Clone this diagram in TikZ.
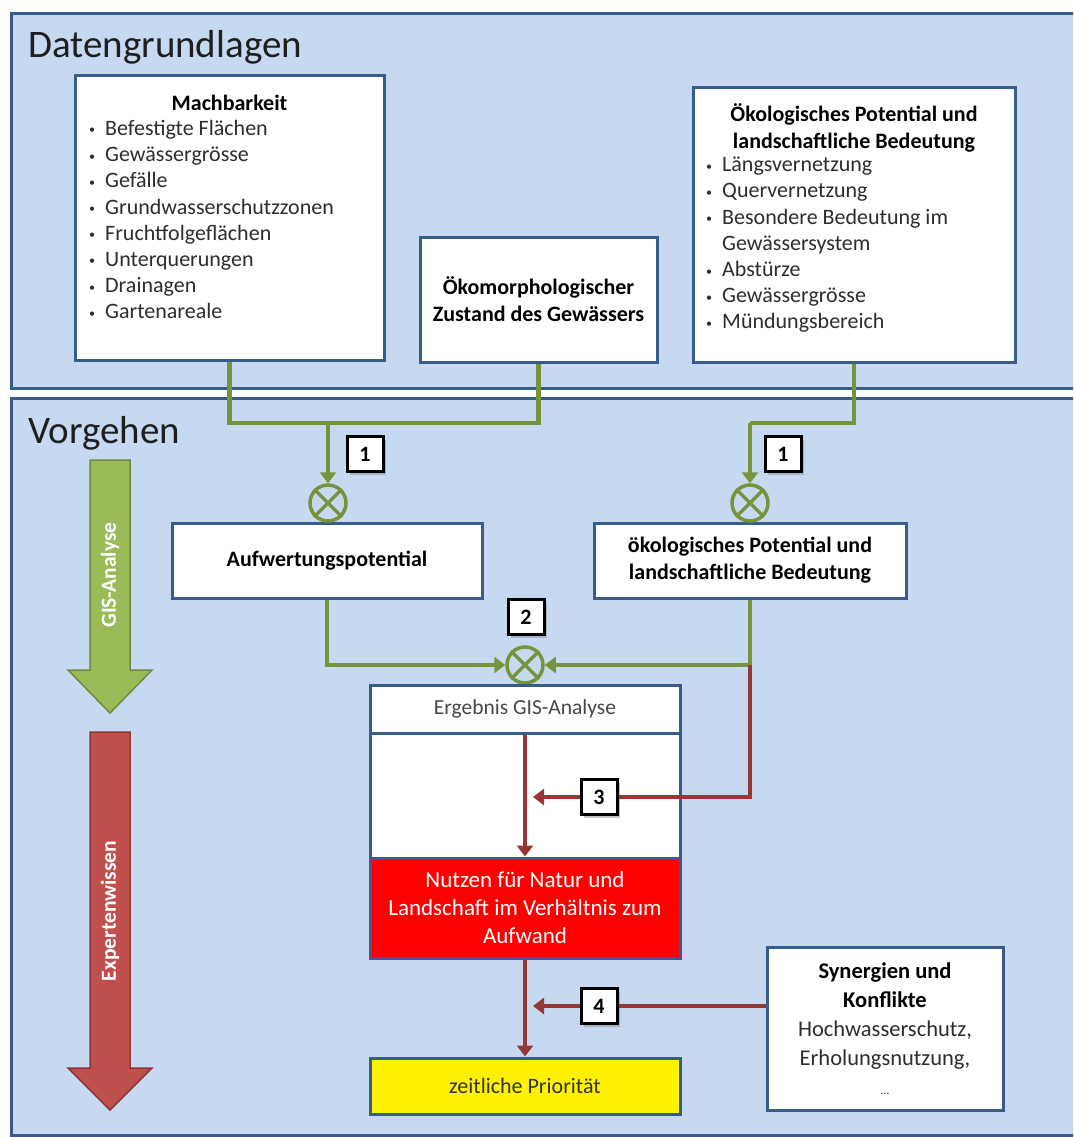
\documentclass[tikz,border=0pt]{standalone}
\usepackage{fontspec}
\setmainfont{Carlito}
\usetikzlibrary{arrows.meta,shadows}

\definecolor{panelblau}{RGB}{198,217,241}
\definecolor{rahmen}{RGB}{56,93,138}
\definecolor{gruen}{RGB}{119,147,60}
\definecolor{gisgruen}{RGB}{155,187,89}
\definecolor{gisrand}{RGB}{113,137,63}
\definecolor{dunkelrot}{RGB}{149,55,53}
\definecolor{expertrot}{RGB}{192,80,77}
\definecolor{expertrand}{RGB}{140,56,54}
\definecolor{textgrau}{RGB}{45,45,45}

\newcommand{\pkt}{\makebox[16pt][l]{\raisebox{1.5pt}{\fontsize{12}{12}\selectfont\textbullet}}}

\begin{document}
\begin{tikzpicture}[x=1pt, y=-1pt,
    feld/.style={rectangle, draw=rahmen, line width=3pt, fill=panelblau,
        anchor=north west, inner sep=0pt},
    titel/.style={anchor=base west, inner sep=0pt, text=black!88,
        font=\fontsize{39}{42}\selectfont},
    kasten/.style={rectangle, draw=rahmen, line width=3pt, fill=white,
        text=black, align=center, inner sep=0pt,
        font=\fontsize{22}{27}\selectfont,
        drop shadow={opacity=0.2, shadow xshift=2pt, shadow yshift=-2pt}},
    fett/.style={font=\fontsize{22}{27}\selectfont\bfseries},
    liste/.style={anchor=north west, align=left, inner sep=0pt,
        text=textgrau, font=\fontsize{22}{26.2}\selectfont},
    nummer/.style={rectangle, draw=black, line width=3pt, fill=white,
        minimum width=36pt, minimum height=35pt, inner sep=0pt,
        font=\fontsize{22}{24}\selectfont\bfseries,
        drop shadow={opacity=0.45, shadow xshift=3pt, shadow yshift=-3pt}},
    mischer/.style={circle, draw=gruen, line width=3.5pt, fill=panelblau,
        minimum size=36pt, inner sep=0pt},
    gruenlinie/.style={draw=gruen, line width=4.5pt},
    gruenpfeil/.style={gruenlinie, -{Triangle[width=16pt,length=11pt]}},
    rotlinie/.style={draw=dunkelrot, line width=4.5pt},
    rotpfeil/.style={rotlinie, -{Triangle[width=16pt,length=11pt]}},
    pfeiltext/.style={text=white, rotate=90, inner sep=0pt,
        font=\fontsize{21.5}{22}\selectfont\bfseries}]

\useasboundingbox (0,0) rectangle (1073,1137);
\clip (0,0) rectangle (1073,1137);
\fill[white] (0,0) rectangle (1073,1137);

% Felder
\node (datenfeld) [feld, minimum width=1080pt, minimum height=375pt] at (10,12) {};
\node (vorgehenfeld) [feld, minimum width=1080pt, minimum height=737pt] at (10,397) {};
\node (datentitel) [titel] at (28,58) {Datengrundlagen};
\node (vorgehentitel) [titel] at (28,443) {Vorgehen};

% Datengrundlagen
\node (mach) [kasten, minimum width=309pt, minimum height=284pt] at (229.5,218) {};
\node (machtitel) [fett] at (229.5,103) {Machbarkeit};
\node (machliste) [liste] at (89,120) {\pkt Befestigte Flächen\\
    \pkt Gewässergrösse\\
    \pkt Gefälle\\
    \pkt Grundwasserschutzzonen\\
    \pkt Fruchtfolgeflächen\\
    \pkt Unterquerungen\\
    \pkt Drainagen\\
    \pkt Gartenareale};

\node (oekom) [kasten, fett, minimum width=237pt, minimum height=125pt] at (538.5,299.5)
    {Ökomorphologischer\\Zustand des Gewässers};

\node (oekopot) [kasten, minimum width=322pt, minimum height=274pt] at (854,225) {};
\node (oekotitel) [fett, align=center, anchor=north, inner sep=0pt] at (854,103)
    {Ökologisches Potential und\\landschaftliche Bedeutung};
\node (oekoliste) [liste] at (706,157) {\pkt Längsvernetzung\\
    \pkt Quervernetzung\\
    \pkt Besondere Bedeutung im\\
    \hspace*{16pt}Gewässersystem\\
    \pkt Abstürze\\
    \pkt Gewässergrösse\\
    \pkt Mündungsbereich};

% Vorgehen
\draw[fill=gisgruen, draw=gisrand, line width=1.5pt]
    (90,460) -- (130,460) -- (130,670) -- (152,670) -- (110,713)
    -- (68,670) -- (90,670) -- cycle;
\node (gistext) [pfeiltext] at (110,575) {GIS-Analyse};
\draw[fill=expertrot, draw=expertrand, line width=1.5pt]
    (90,732) -- (130,732) -- (130,1068) -- (152,1068) -- (110,1110)
    -- (68,1068) -- (90,1068) -- cycle;
\node (experttext) [pfeiltext] at (110,911) {Expertenwissen};

\node (aufw) [kasten, fett, minimum width=310pt, minimum height=75pt] at (327,560.5)
    {Aufwertungspotential};
\node (oekopot2) [kasten, fett, minimum width=312pt, minimum height=75pt] at (750,560.5)
    {ökologisches Potential und\\landschaftliche Bedeutung};

\node (m1) [mischer] at (328,503) {};
\node (m2) [mischer] at (750,503) {};
\node (m3) [mischer] at (525,665) {};
\draw[gruen, line width=3.5pt]
    (m1.north west) -- (m1.south east) (m1.north east) -- (m1.south west)
    (m2.north west) -- (m2.south east) (m2.north east) -- (m2.south west)
    (m3.north west) -- (m3.south east) (m3.north east) -- (m3.south west);

\node (ergkopf) [kasten, minimum width=310pt, minimum height=48pt,
    text=black!72, font=\fontsize{21.5}{24}\selectfont] at (525,709) {Ergebnis GIS-Analyse};
\node (ergmitte) [kasten, minimum width=310pt, minimum height=125pt] at (525,795.5) {};
\node (nutzen) [kasten, fill=red, text=white, minimum width=310pt, minimum height=100pt,
    font=\fontsize{23}{28}\selectfont] at (525,908)
    {Nutzen für Natur und\\Landschaft im Verhältnis zum\\Aufwand};
\node (gelb) [kasten, fill=yellow, text=black!80, minimum width=310pt, minimum height=56pt,
    font=\fontsize{22}{24}\selectfont] at (525,1086) {zeitliche Priorität};
\node (syn) [kasten, minimum width=236pt, minimum height=163pt, text=textgrau,
    font=\fontsize{22.5}{29}\selectfont] at (885,1028.5)
    {\textbf{\color{black}Synergien und}\\\textbf{\color{black}Konflikte}\\Hochwasserschutz,\\Erholungsnutzung,\\{\fontsize{12}{14}\selectfont\dots}};

\coordinate (join1) at (328,423);
\coordinate (join2) at (750,423);
\coordinate (tip3) at (533,797);
\coordinate (tip4) at (533,1006);

% gruene Verbindungen
\draw[gruenlinie] (mach.south) |- (join1) -| (oekom.south);
\draw[gruenpfeil] (join1) -- (m1);
\draw[gruenlinie] (oekopot.south) |- (join2);
\draw[gruenpfeil] (join2) -- (m2);
\draw[gruenpfeil] (aufw.south) |- (m3);
\draw[gruenpfeil] (oekopot2.south) |- (m3);

% rote Verbindungen
\node (nr3) [nummer] at (599,797) {3};
\node (nr4) [nummer] at (599,1006) {4};
\draw[rotpfeil] (ergkopf.south) -- (nutzen.north);
\draw[rotpfeil] (nutzen.south) -- (gelb.north);
\draw[rotlinie] (oekopot2.south |- m3) |- (nr3);
\draw[rotpfeil] (nr3) -- (tip3);
\draw[rotlinie] (syn.west |- nr4) -- (nr4);
\draw[rotpfeil] (nr4) -- (tip4);

\node (nr1a) [nummer] at (365,454) {1};
\node (nr1b) [nummer] at (783,454) {1};
\node (nr2) [nummer] at (526,617) {2};

\end{tikzpicture}
\end{document}
